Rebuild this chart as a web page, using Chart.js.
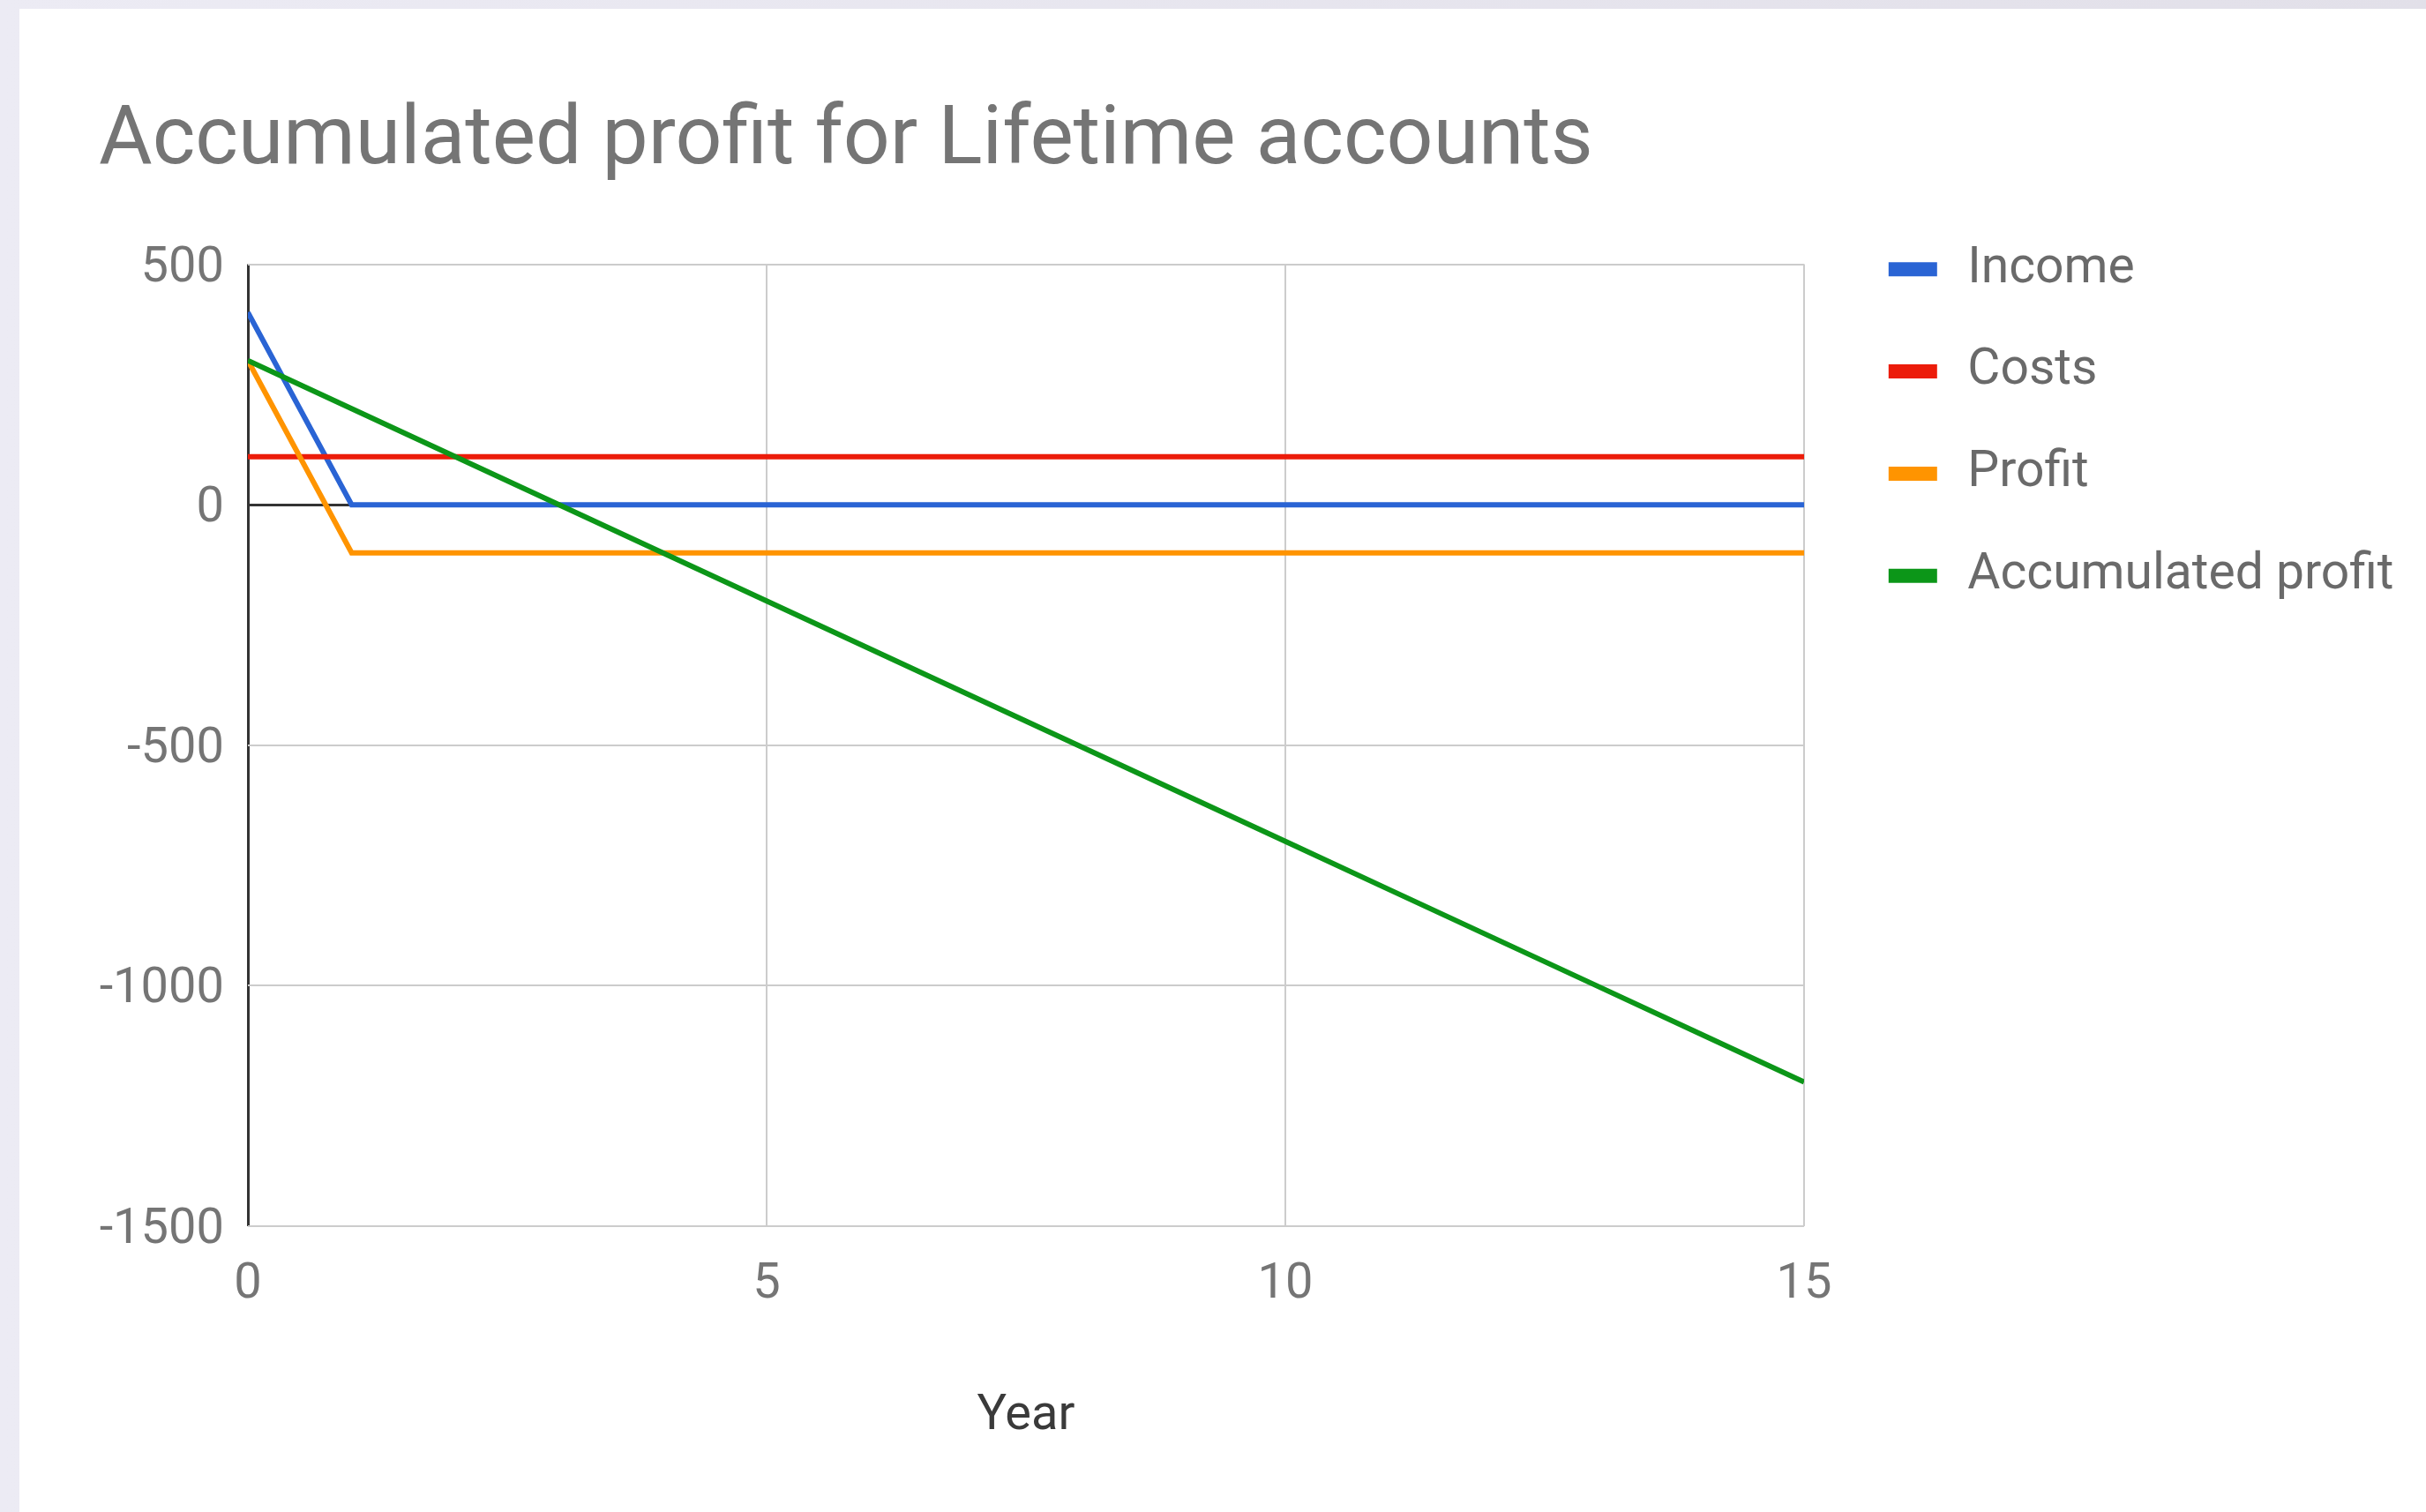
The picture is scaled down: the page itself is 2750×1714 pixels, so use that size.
<!DOCTYPE html>
<html><head><meta charset="utf-8">
<script src="https://cdn.jsdelivr.net/npm/chart.js@4.4.0/dist/chart.umd.min.js"></script>
<style>
html,body{margin:0;padding:0;width:2750px;height:1714px;overflow:hidden;background:linear-gradient(90deg,#ecebf4 0%,#e2e0e9 100%);}
#card{position:absolute;left:22px;top:10px;right:0;bottom:0;background:#fff;}
#c{position:absolute;left:0;top:0;}
</style></head><body>
<div id="card"></div>
<canvas id="c" width="2750" height="1714"></canvas>
<script>
// ---- data ----
const titleText = 'Accumulated profit for Lifetime accounts';
const xAxisTitle = 'Year';
const years = [0,1,2,3,4,5,6,7,8,9,10,11,12,13,14,15];
const seriesNames = ['Income','Costs','Profit','Accumulated profit'];
const income = [400,0,0,0,0,0,0,0,0,0,0,0,0,0,0,0];
const costs = [100,100,100,100,100,100,100,100,100,100,100,100,100,100,100,100];
const profit = [300,-100,-100,-100,-100,-100,-100,-100,-100,-100,-100,-100,-100,-100,-100,-100];
const accumulated = [300,200,100,0,-100,-200,-300,-400,-500,-600,-700,-800,-900,-1000,-1100,-1200];
const xTicks = [0,5,10,15];
const xTickLabels = ['0','5','10','15'];
const yTicks = [-1500,-1000,-500,0,500];
const yTickLabels = ['-1500','-1000','-500','0','500'];

// ---- styles ----
const colors = ['#2a64d4','#ec1c0a','#ff9400','#0c9618'];
const seriesValues = [income, costs, profit, accumulated];

Chart.defaults.font.family = 'Roboto';

const datasets = seriesNames.map((name, i) => ({
  label: name,
  data: years.map((x, j) => ({x: x, y: seriesValues[i][j]})),
  borderColor: colors[i],
  backgroundColor: colors[i],
  borderWidth: 6,
  pointRadius: 0,
  pointHoverRadius: 0,
  tension: 0,
  order: seriesNames.length - i
}));

const LEGEND_LEFT = 2076, LEGEND_TOP = 218;
const legendPlacer = {
  id: 'legendPlacer',
  afterLayout(chart) {
    const lg = chart.legend;
    if (!lg) return;
    const dy = LEGEND_TOP - lg.top;
    lg.left = LEGEND_LEFT; lg.right = chart.width; lg.width = lg.right - lg.left;
    lg.top += dy; lg.bottom += dy;
  }
};

const gridColor = (ctx) => (ctx.tick && ctx.tick.value === 0) ? '#333333' : '#cccccc';
const gridWidth = (ctx) => (ctx.tick && ctx.tick.value === 0) ? 3 : 2;

new Chart(document.getElementById('c'), {
  type: 'line',
  data: { datasets },
  plugins: [legendPlacer],
  options: {
    responsive: false,
    animation: false,
    events: [],
    layout: { padding: { top: 0, left: 112, right: 145, bottom: 79 } },
    plugins: {
      title: {
        display: true, text: titleText, align: 'start', color: '#757575',
        font: { size: 93, weight: 'normal' },
        padding: { top: 106, bottom: 82 }
      },
      legend: {
        display: true, position: 'right', align: 'start', maxWidth: 560,
        labels: {
          color: '#6a6a6a', font: { size: 57 },
          boxWidth: 67, boxHeight: 28, padding: 58.8,
          sort: (a, b) => a.datasetIndex - b.datasetIndex,
          generateLabels(chart) {
            const items = Chart.defaults.plugins.legend.labels.generateLabels(chart);
            items.forEach(it => { it.lineWidth = 12; it.strokeStyle = '#ffffff'; it.lineDash = []; });
            return items;
          }
        }
      },
      tooltip: { enabled: false }
    },
    scales: {
      x: {
        type: 'linear', position: 'bottom',
        min: xTicks[0], max: xTicks[xTicks.length - 1],
        afterBuildTicks(scale) { scale.ticks = xTicks.map(v => ({value: v})); },
        afterFit(scale) { scale.height = 245; },
        ticks: { color: '#757575', font: { size: 56 }, padding: 33, maxRotation: 0,
                 callback: (v) => xTickLabels[xTicks.indexOf(v)] },
        grid: { color: gridColor, lineWidth: gridWidth, drawTicks: false },
        border: { display: false },
        title: { display: true, text: xAxisTitle, color: '#3a3a3a', font: { size: 56 }, padding: { top: 0, bottom: -5 } }
      },
      y: {
        type: 'linear', position: 'left',
        min: yTicks[0], max: yTicks[yTicks.length - 1],
        afterBuildTicks(scale) { scale.ticks = yTicks.map(v => ({value: v})); },
        afterFit(scale) { scale.width = 169; },
        ticks: { color: '#757575', font: { size: 56 }, padding: 27, labelOffset: 5,
                 callback: (v) => yTickLabels[yTicks.indexOf(v)] },
        grid: { color: gridColor, lineWidth: gridWidth, drawTicks: false },
        border: { display: false }
      }
    }
  }
});
</script>
</body></html>
